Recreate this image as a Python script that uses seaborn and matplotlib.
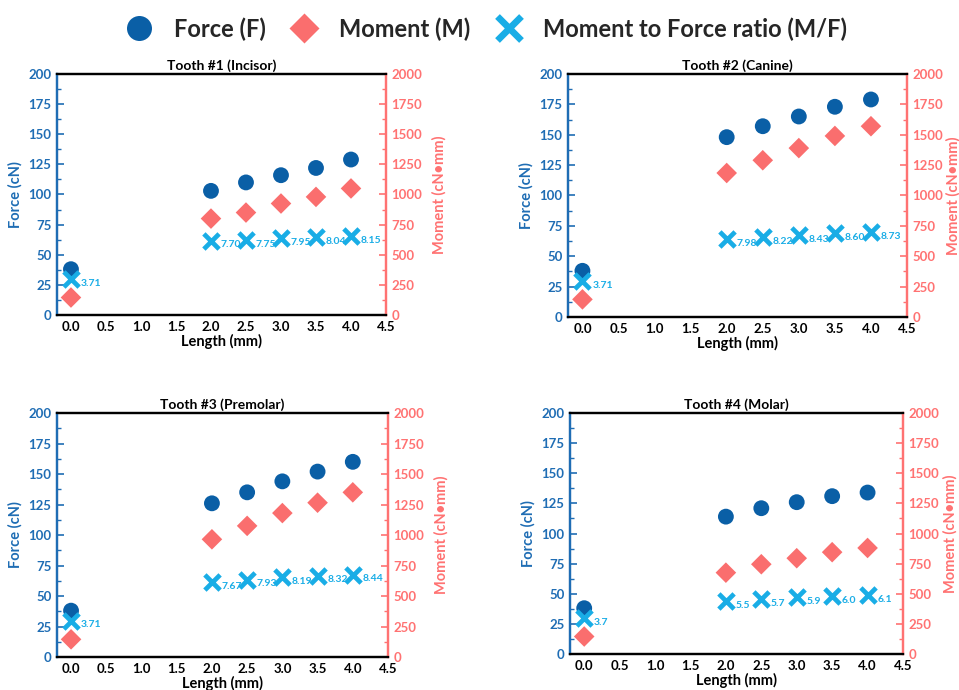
import matplotlib
matplotlib.use("Agg")
import matplotlib.pyplot as plt
from matplotlib.lines import Line2D
from matplotlib.ticker import MultipleLocator
import seaborn as sns
import pandas as pd

sns.set_style("white")
plt.rcParams['font.family'] = ['Lato', 'DejaVu Sans']

# ---- data ----
lengths = [0.0, 2.0, 2.5, 3.0, 3.5, 4.0]
titles = ["Tooth #1 (Incisor)", "Tooth #2 (Canine)", "Tooth #3 (Premolar)", "Tooth #4 (Molar)"]

force_1 = [38, 103, 110, 116, 122, 129]
moment_1 = [145, 800, 850, 925, 980, 1050]
ratio_1 = [3.71, 7.70, 7.75, 7.95, 8.04, 8.15]
ratio_lbl_1 = ["3.71", "7.70", "7.75", "7.95", "8.04", "8.15"]

force_2 = [38, 148, 157, 165, 173, 179]
moment_2 = [145, 1185, 1290, 1390, 1490, 1570]
ratio_2 = [3.71, 7.98, 8.22, 8.43, 8.60, 8.73]
ratio_lbl_2 = ["3.71", "7.98", "8.22", "8.43", "8.60", "8.73"]

force_3 = [38, 126, 135, 144, 152, 160]
moment_3 = [145, 965, 1075, 1180, 1265, 1350]
ratio_3 = [3.71, 7.67, 7.93, 8.19, 8.32, 8.44]
ratio_lbl_3 = ["3.71", "7.67", "7.93", "8.19", "8.32", "8.44"]

force_4 = [38, 114, 121, 126, 131, 134]
moment_4 = [145, 675, 745, 795, 845, 880]
ratio_4 = [3.7, 5.5, 5.7, 5.9, 6.0, 6.1]
ratio_lbl_4 = ["3.7", "5.5", "5.7", "5.9", "6.0", "6.1"]

forces = [force_1, force_2, force_3, force_4]
moments = [moment_1, moment_2, moment_3, moment_4]
ratios = [ratio_1, ratio_2, ratio_3, ratio_4]
ratio_lbls = [ratio_lbl_1, ratio_lbl_2, ratio_lbl_3, ratio_lbl_4]

# ---- style ----
C_FORCE = "#0a5fa6"
C_MOM = "#fa6e6e"
C_RATIO = "#19ade6"
C_LEFT = "#1f6db4"
C_RIGHT = "#ff7272"

positions = [
    [0.0594, 0.5435, 0.3431, 0.3493],
    [0.5923, 0.5406, 0.3535, 0.3522],
    [0.0594, 0.0478, 0.3452, 0.3536],
    [0.5944, 0.0522, 0.3472, 0.3492],
]
right_pads = [7, 2, 7, 3]

fig = plt.figure(figsize=(9.59, 6.90), dpi=100)

for i in range(4):
    df = pd.DataFrame({"length": lengths, "force": forces[i],
                       "moment": moments[i], "ratio": ratios[i]})
    ax = fig.add_axes(positions[i])
    ax2 = ax.twinx()
    ax3 = ax.twinx()

    sns.scatterplot(data=df, x="length", y="force", ax=ax, marker="o", s=130,
                    color=C_FORCE, edgecolor="none", zorder=3, legend=False)
    sns.scatterplot(data=df, x="length", y="moment", ax=ax2, marker="D", s=110,
                    color=C_MOM, edgecolor="none", zorder=3, legend=False)
    sns.scatterplot(data=df, x="length", y="ratio", ax=ax3, marker="x", s=120,
                    color=C_RATIO, linewidth=3.4, zorder=4, legend=False)
    for xv, yv, lb in zip(lengths, ratios[i], ratio_lbls[i]):
        ax3.annotate(lb, (xv, yv), xytext=(7, -3), textcoords="offset points",
                     fontsize=7.5, fontweight="bold", color=C_RATIO,
                     ha="left", va="center", zorder=3)

    ax.set_xlim(-0.2, 4.5)
    ax.set_ylim(0, 200)
    ax2.set_ylim(0, 2000)
    ax3.set_ylim(0, 25)
    ax3.axis("off")

    ax.xaxis.set_major_locator(MultipleLocator(0.5))
    ax.xaxis.set_minor_locator(MultipleLocator(0.25))
    ax.yaxis.set_major_locator(MultipleLocator(25))
    ax.yaxis.set_minor_locator(MultipleLocator(12.5))
    ax2.yaxis.set_major_locator(MultipleLocator(250))
    ax2.yaxis.set_minor_locator(MultipleLocator(125))

    ax.set_title(titles[i], fontsize=10, fontweight="bold", color="black", pad=3)
    ax.set_xlabel("Length (mm)", fontsize=10.5, fontweight="bold", color="black", labelpad=1)
    ax.set_ylabel("Force (cN)", fontsize=10.5, fontweight="bold", color=C_LEFT, labelpad=4)
    ax2.set_ylabel("Moment (cN\u2022mm)", fontsize=10.5, fontweight="bold", color=C_RIGHT,
                   labelpad=right_pads[i])

    for a in (ax, ax2):
        for sp in a.spines.values():
            sp.set_linewidth(1.6)
        a.spines["top"].set_color("black")
        a.spines["bottom"].set_color("black")
        a.spines["left"].set_color(C_LEFT)
        a.spines["right"].set_color(C_RIGHT)

    ax.tick_params(axis="x", which="both", direction="in", colors="black",
                   labelsize=9.5, pad=4, top=False)
    ax.tick_params(axis="x", which="major", length=5, width=1.4)
    ax.tick_params(axis="x", which="minor", length=3, width=1.2)
    ax.tick_params(axis="y", which="both", direction="in", colors=C_LEFT,
                   labelsize=9.5, pad=4)
    ax.tick_params(axis="y", which="major", length=5, width=1.2)
    ax.tick_params(axis="y", which="minor", length=3, width=1.0)
    ax2.tick_params(axis="y", which="both", direction="in", colors=C_RIGHT,
                    labelsize=9.5, pad=4)
    ax2.tick_params(axis="y", which="major", length=5, width=1.2)
    ax2.tick_params(axis="y", which="minor", length=3, width=1.0)
    for lab in ax.get_xticklabels() + ax.get_yticklabels() + ax2.get_yticklabels():
        lab.set_fontweight("bold")

handles = [
    Line2D([], [], linestyle="none", marker="o", markersize=18, color=C_FORCE, markeredgecolor="none"),
    Line2D([], [], linestyle="none", marker="D", markersize=15, color=C_MOM, markeredgecolor="none"),
    Line2D([], [], linestyle="none", marker="x", markersize=17, color=C_RATIO, markeredgewidth=4.8),
]
labels = ["Force (F)", "Moment (M)", "Moment to Force ratio (M/F)"]
fig.legend(handles, labels, loc="center", bbox_to_anchor=(0.505, 0.958), ncol=3,
           frameon=False, prop={"weight": "bold", "size": 17}, handletextpad=0.7,
           handlelength=1.5, columnspacing=0.9)

fig.savefig("out.png", dpi=100)
